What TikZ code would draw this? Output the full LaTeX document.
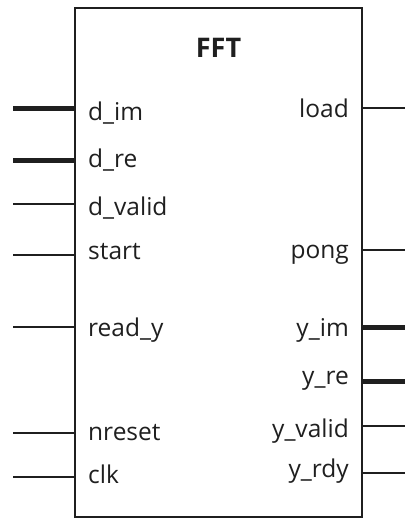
\documentclass[tikz,border=0pt]{standalone}
\usepackage{fontspec}
\setmainfont{Open Sans}
\usetikzlibrary{positioning}
\tikzstyle{block} = [rectangle, draw=black!88, line width=2pt, minimum width=287pt, minimum height=509pt, inner sep=0pt]
\tikzstyle{inport} = [anchor=base west, inner sep=0pt, text=black!88, font=\fontsize{24.5}{24.5}\selectfont]
\tikzstyle{outport} = [anchor=base east, inner sep=0pt, text=black!88, font=\fontsize{24.5}{24.5}\selectfont]
\tikzstyle{wire} = [draw=black!88, line width=2pt]
\tikzstyle{bus} = [draw=black!88, line width=5pt]

\begin{document}
\begin{tikzpicture}[x=1pt, y=-1pt]
\useasboundingbox (0,0) rectangle (405,519);

% Nodes
\node (fft) [block] at (218.5,262.5) {};
\node (title) [anchor=base, inner sep=0pt, text=black!88, font=\fontsize{27}{27}\selectfont\bfseries] at (fft.north |- 0,58) {FFT};

\node (dim) [inport] at (88,120) {d\_im};
\node (dre) [inport] at (88,167) {d\_re};
\node (dvalid) [inport] at (88,215) {d\_valid};
\node (start) [inport] at (88,259) {start};
\node (ready) [inport] at (88,336) {read\_y};
\node (nreset) [inport] at (88,440) {nreset};
\node (clk) [inport] at (88,483) {clk};

\node (load) [outport] at (349,117) {load};
\node (pong) [outport] at (349,258) {pong};
\node (yim) [outport] at (349,336) {y\_im};
\node (yre) [outport] at (349,384) {y\_re};
\node (yvalid) [outport] at (349,437) {y\_valid};
\node (yrdy) [outport] at (349,477) {y\_rdy};

% Free ends
\coordinate (dimin) at (13,108);
\coordinate (drein) at (13,160);
\coordinate (dvalidin) at (13,204);
\coordinate (startin) at (13,255);
\coordinate (readyin) at (13,327);
\coordinate (nresetin) at (13,433);
\coordinate (clkin) at (13,477);

\coordinate (loadout) at (405,108);
\coordinate (pongout) at (405,250);
\coordinate (yimout) at (405,327);
\coordinate (yreout) at (405,381);
\coordinate (yvalidout) at (405,426);
\coordinate (yrdyout) at (405,473);

% Inputs
\draw [bus] (dimin) -- (dimin -| fft.west);
\draw [bus] (drein) -- (drein -| fft.west);
\draw [wire] (dvalidin) -- (dvalidin -| fft.west);
\draw [wire] (startin) -- (startin -| fft.west);
\draw [wire] (readyin) -- (readyin -| fft.west);
\draw [wire] (nresetin) -- (nresetin -| fft.west);
\draw [wire] (clkin) -- (clkin -| fft.west);

% Outputs
\draw [wire] (loadout -| fft.east) -- (loadout);
\draw [wire] (pongout -| fft.east) -- (pongout);
\draw [bus] (yimout -| fft.east) -- (yimout);
\draw [bus] (yreout -| fft.east) -- (yreout);
\draw [wire] (yvalidout -| fft.east) -- (yvalidout);
\draw [wire] (yrdyout -| fft.east) -- (yrdyout);

\end{tikzpicture}
\end{document}
